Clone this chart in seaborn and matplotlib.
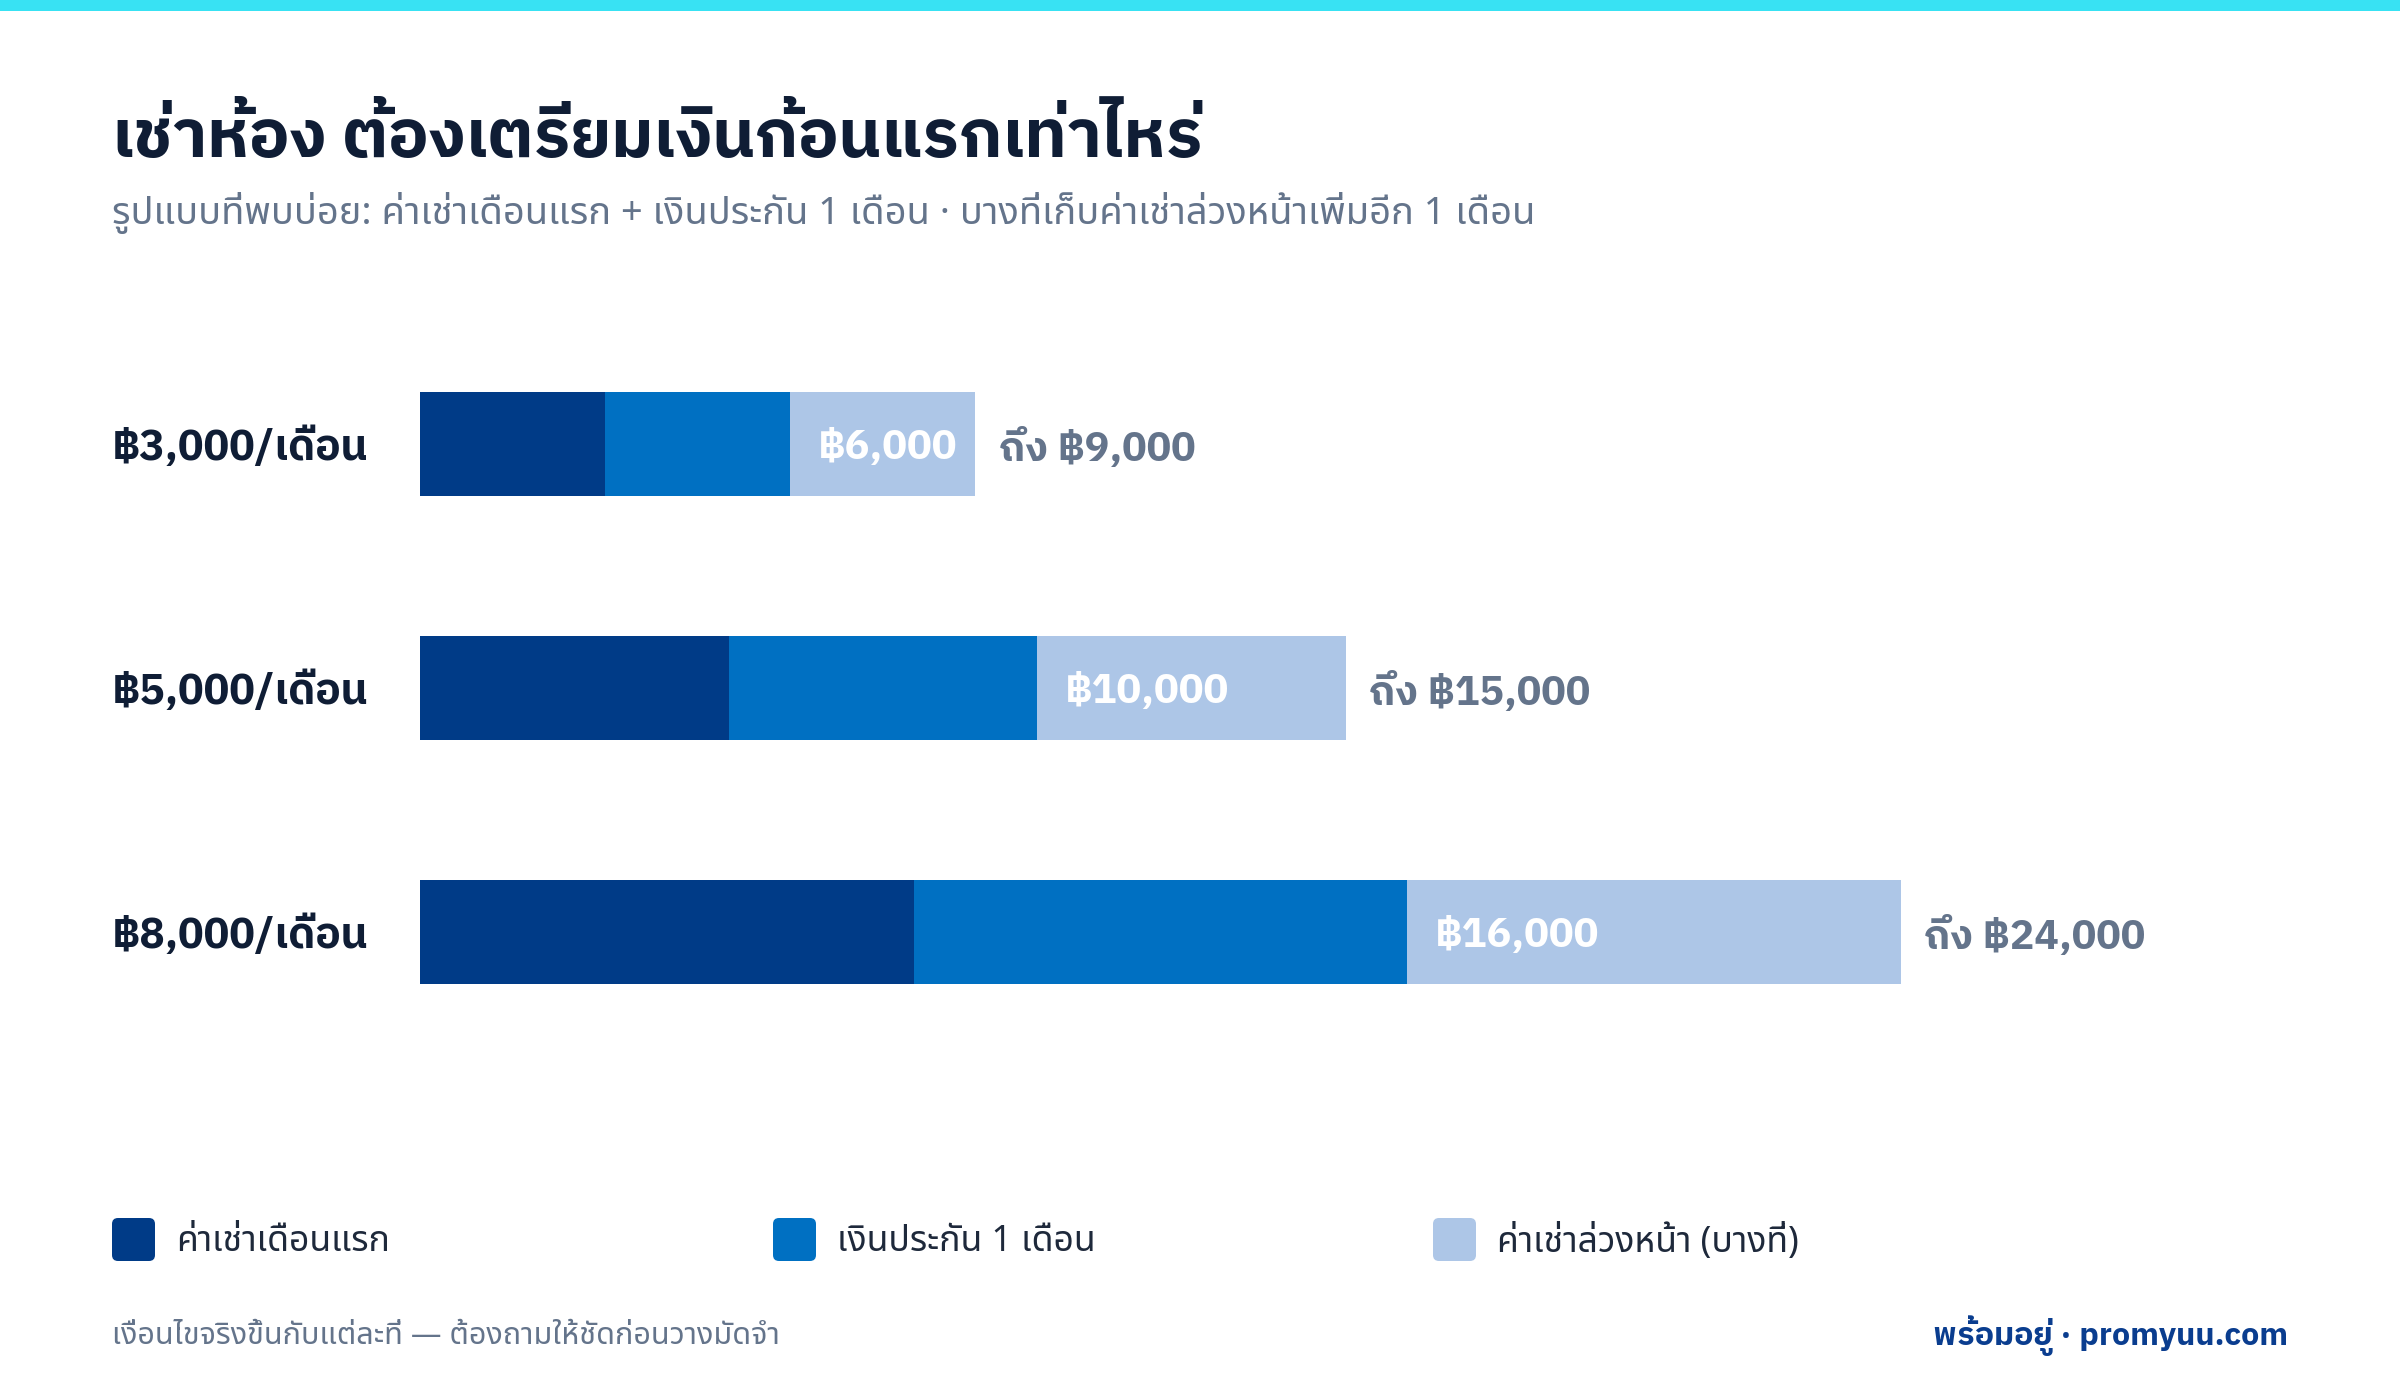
import matplotlib
matplotlib.use("Agg")
import matplotlib.pyplot as plt
from matplotlib.patches import FancyBboxPatch, Rectangle
from matplotlib.transforms import blended_transform_factory
import pandas as pd
import seaborn as sns

# data
rows = ["฿3,000/เดือน", "฿5,000/เดือน", "฿8,000/เดือน"]
first_month = [3000, 5000, 8000]
deposit = [3000, 5000, 8000]
advance = [3000, 5000, 8000]
parts = ["ค่าเช่าเดือนแรก", "เงินประกัน 1 เดือน", "ค่าเช่าล่วงหน้า (บางที่)"]
colors = ["#003B87", "#0070C2", "#ADC6E7"]

title = "เช่าห้อง ต้องเตรียมเงินก้อนแรกเท่าไหร่"
subtitle = "รูปแบบที่พบบ่อย: ค่าเช่าเดือนแรก + เงินประกัน 1 เดือน · บางที่เก็บค่าเช่าล่วงหน้าเพิ่มอีก 1 เดือน"
footer_left = "เงื่อนไขจริงขึ้นกับแต่ละที่ — ต้องถามให้ชัดก่อนวางมัดจำ"
footer_right = "พร้อมอยู่ · promyuu.com"

sns.set_theme(style="white")
# Noto Sans Thai is only there as a regular weight, so bold text goes to IBM Plex Sans Thai
REG = ["Noto Sans Thai", "DejaVu Sans"]
BOLD = ["IBM Plex Sans Thai", "DejaVu Sans"]
plt.rcParams["font.family"] = REG

W, H = 2400, 1400
fig = plt.figure(figsize=(24, 14), dpi=100)
fig.patch.set_facecolor("white")

def px(x, y):
    return x / W, 1 - y / H

# cyan strip on top
fig.add_artist(Rectangle((0, 1 - 11 / H), 1, 11 / H, transform=fig.transFigure, color="#38E2F3", lw=0))

fig.text(*px(112, 157), title, fontsize=48.5, fontweight="bold", family=BOLD, color="#0F1D35", va="baseline")
fig.text(*px(112, 224), subtitle, fontsize=27.4, color="#64748B", va="baseline")

df = pd.DataFrame({"row": rows, "first": first_month, "deposit": deposit, "advance": advance})
df["two"] = df["first"] + df["deposit"]
df["total"] = df["two"] + df["advance"]

ax = fig.add_axes([420 / W, 1 - 1054 / H, 1851 / W, 732 / H])
bar_kw = dict(width=0.425, saturation=1, ax=ax, orient="h", linewidth=0, edgecolor="none")
sns.barplot(data=df, y="row", x="total", color=colors[2], **bar_kw)
sns.barplot(data=df, y="row", x="two", color=colors[1], **bar_kw)
sns.barplot(data=df, y="row", x="first", color=colors[0], **bar_kw)
ax.set_xlim(0, 30000)
ax.set_ylim(2.5, -0.5)
ax.axis("off")

trans = blended_transform_factory(fig.transFigure, ax.transData)
for i, r in df.iterrows():
    ax.annotate(r["row"], (112 / W, i), xycoords=trans, xytext=(0, -3), textcoords="offset points",
                ha="left", va="center", fontsize=30.6, fontweight="bold", family=BOLD, color="#0F1D35")
    ax.annotate(f"฿{r['two']:,}", (r["two"], i), xytext=(20, -3), textcoords="offset points",
                ha="left", va="center", fontsize=29.8, fontweight="bold", family=BOLD, color="white")
    ax.annotate(f"ถึง ฿{r['total']:,}", (r["total"], i), xytext=(17, -3), textcoords="offset points",
                ha="left", va="center", fontsize=29.5, fontweight="bold", family=BOLD, color="#64748B")

# legend
for x0, lab, c in zip([112, 773, 1433], parts, colors):
    fig.add_artist(FancyBboxPatch((x0 / 100, (H - 1261) / 100), 0.43, 0.43,
                                  boxstyle="round,pad=0,rounding_size=0.06",
                                  transform=fig.dpi_scale_trans, color=c, lw=0))
    fig.text(*px(x0 + 64, 1242), lab, fontsize=25.6, color="#1E293B", va="center")

fig.text(*px(112, 1336), footer_left, fontsize=22, color="#64748B", va="center")
fig.text(*px(2288, 1336), footer_right, fontsize=23.2, fontweight="bold", family=BOLD,
         color="#0A3D8F", va="center", ha="right")

fig.savefig("out.png", dpi=100)
